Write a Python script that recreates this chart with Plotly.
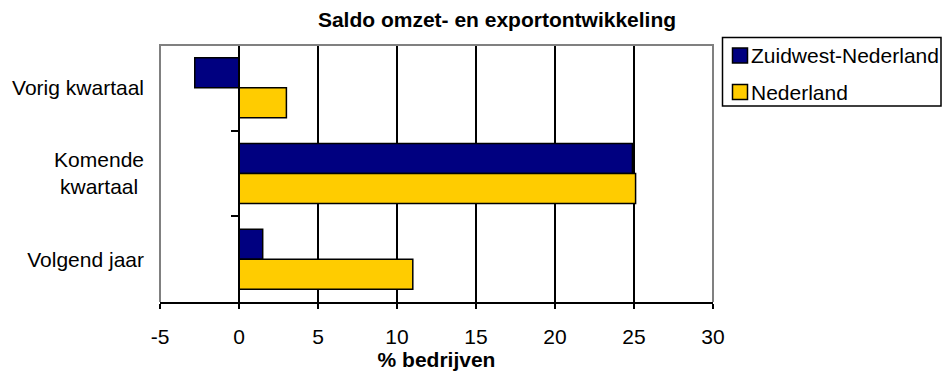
import plotly.graph_objects as go

# Survey results: balance (%) of companies reporting revenue/export change
categories = ["Vorig kwartaal", "Komende<br>kwartaal\u00a0", "Volgend jaar"]
zuidwest = [-2.8, 24.9, 1.5]
nederland = [3.0, 25.1, 11.0]
series_names = ["Zuidwest-Nederland", "Nederland"]
x_ticks = [-5, 0, 5, 10, 15, 20, 25, 30]

W, H = 943, 374
L, R, T, B = 160, 713, 45, 302          # plot area in pixels
FONT = "Liberation Sans, Arial, sans-serif"
FS = 21
NAVY = "#000080"
YELLOW = "#FFCC00"
GREY = "#808080"
colors = [NAVY, YELLOW]


def px(x):
    """pixel column -> paper x"""
    return (x - L) / (R - L)


def py(y):
    """pixel row -> paper y"""
    return (B - y) / (B - T)


fig = go.Figure()
for name, vals, color in zip(series_names, [zuidwest, nederland], colors):
    fig.add_trace(go.Bar(
        y=categories, x=vals, name=name, orientation="h",
        marker=dict(color=color, line=dict(color="black", width=1.5)),
        showlegend=False,
    ))

# helper trace so the inner category axis (crossing at x = 0) is drawn
fig.add_trace(go.Scatter(
    y=categories, x=[None] * len(categories), yaxis="y2",
    mode="markers", showlegend=False, hoverinfo="skip",
))

shapes = [dict(
    type="path", xref="paper", yref="paper", layer="above",
    path="M0,0 L0,1 L1,1 L1,0", line=dict(color=GREY, width=2),
)]
annotations = []

# legend box with two entries
shapes.append(dict(type="rect", xref="paper", yref="paper",
                   x0=px(722.5), x1=px(941), y0=py(106), y1=py(37.5),
                   line=dict(color="black", width=1.5), fillcolor="white"))
for i, (name, color) in enumerate(zip(series_names, colors)):
    yc = 55.5 + i * 36.5
    shapes.append(dict(type="rect", xref="paper", yref="paper",
                       x0=px(732.5), x1=px(747.5), y0=py(yc + 7.5), y1=py(yc - 7.5),
                       line=dict(color="black", width=1.5), fillcolor=color))
    annotations.append(dict(text=name, xref="paper", yref="paper",
                            x=px(749), y=py(yc), xanchor="left", yanchor="middle",
                            showarrow=False, font=dict(size=FS)))

fig.update_layout(
    width=W, height=H,
    margin=dict(l=L, r=W - R, t=T, b=H - B, autoexpand=False),
    paper_bgcolor="white", plot_bgcolor="white",
    font=dict(family=FONT, size=FS, color="black"),
    title=dict(
        text="<b>Saldo omzet- en exportontwikkeling</b>",
        font=dict(size=FS), x=497 / W, xanchor="center",
        y=1 - 20 / H, yanchor="middle", xref="container", yref="container",
    ),
    barmode="group", bargap=0.3, bargroupgap=0,
    xaxis=dict(
        range=[-5, 30], tickvals=x_ticks, ticktext=[str(v) for v in x_ticks],
        showgrid=True, gridcolor="black", gridwidth=1.5,
        zeroline=False, showline=True, linecolor="black", linewidth=1.5,
        ticks="outside", ticklen=5, tickwidth=1.5, tickcolor="black",
        ticklabelstandoff=10,
        title=dict(text="<b>% bedrijven</b>", font=dict(size=FS), standoff=4),
    ),
    yaxis=dict(
        type="category", categoryorder="array", categoryarray=categories,
        autorange="reversed", showgrid=False, zeroline=False,
        showline=False, ticks="", ticklabelstandoff=15,
    ),
    yaxis2=dict(
        type="category", categoryorder="array", categoryarray=categories,
        overlaying="y", matches="y", anchor="free", position=5 / 35,
        side="left", showline=True, linecolor="black", linewidth=1.5,
        ticks="outside", tickson="boundaries", ticklen=7, tickwidth=1.5,
        tickcolor="black", showticklabels=False, showgrid=False,
    ),
    shapes=shapes,
    annotations=annotations,
)

fig.write_html("out.html")
